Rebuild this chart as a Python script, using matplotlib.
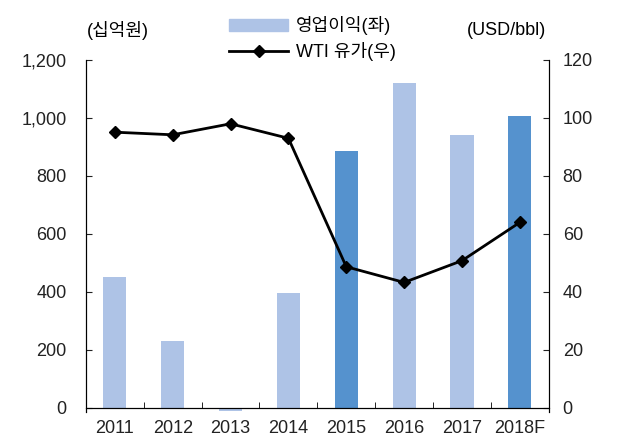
import matplotlib
matplotlib.use("Agg")
import matplotlib.pyplot as plt
from matplotlib.patches import Patch
from matplotlib.lines import Line2D

plt.rcParams["font.family"] = ["Liberation Sans", "Noto Sans CJK KR", "DejaVu Sans"]

years = ["2011", "2012", "2013", "2014", "2015", "2016", "2017", "2018F"]
op_profit = [452, 230, -10, 397, 885, 1122, 942, 1006]  # 십억원
wti = [95.1, 94.2, 98.0, 93.0, 48.7, 43.3, 50.8, 64.0]  # USD/bbl
highlight = ["2015", "2018F"]

light = "#aec3e6"
dark = "#5592ce"

fig = plt.figure(figsize=(6.18, 4.41), dpi=100)
ax = fig.add_axes([0.139, 0.065, 0.749, 0.799])
ax2 = ax.twinx()

x = range(len(years))
colors = [dark if y in highlight else light for y in years]
ax.bar(x, op_profit, width=0.4, color=colors, zorder=2)
ax2.plot(x, wti, color="black", lw=2, marker="D", markersize=6.5, zorder=3)

ax.set_xlim(-0.5, len(years) - 0.5)
ax.set_ylim(-15, 1200)
ax2.set_ylim(-1.5, 120)
ax.set_yticks(range(0, 1201, 200))
ax.set_yticklabels([f"{v:,}" for v in range(0, 1201, 200)])
ax2.set_yticks(range(0, 121, 20))

for a in (ax, ax2):
    a.spines["top"].set_visible(False)
    a.spines["bottom"].set_position(("data", 0))
    a.tick_params(labelsize=13, colors="#222222", length=4)
ax.tick_params(axis="y", direction="in", pad=14)
ax2.tick_params(axis="y", direction="in", pad=10)

ax.set_xticks([i + 0.5 for i in range(-1, len(years))], minor=True)
ax.set_xticks(list(x))
ax.set_xticklabels(years)
ax.tick_params(axis="x", which="major", length=0, pad=9)
ax.tick_params(axis="x", which="minor", direction="in", length=4)

fig.text(0.19, 0.93, "(십억원)", fontsize=13, ha="center", va="center")
fig.text(0.82, 0.93, "(USD/bbl)", fontsize=13, ha="center", va="center")

handles = [Patch(color=light), Line2D([], [], color="black", lw=2, marker="D", markersize=6.5)]
fig.legend(handles, ["영업이익(좌)", "WTI 유가(우)"], loc="upper center",
           bbox_to_anchor=(0.505, 1.0), frameon=False, fontsize=13,
           handlelength=3.3, handletextpad=0.4, labelspacing=0.4)

fig.savefig("out.png", dpi=100)
